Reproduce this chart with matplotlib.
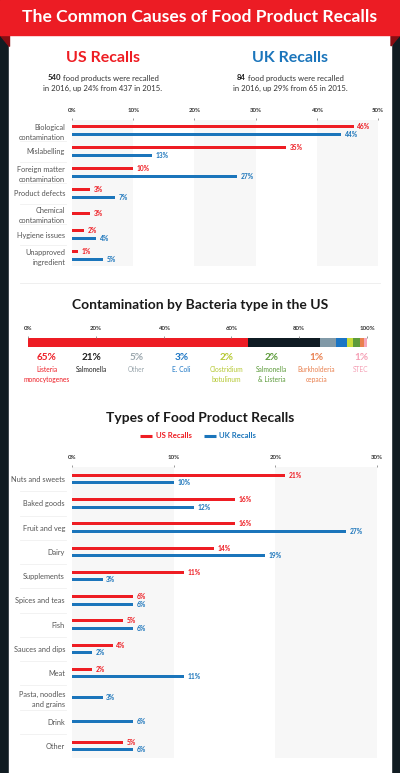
import numpy as np
import matplotlib.pyplot as plt
from matplotlib.patches import Rectangle, Polygon

# ---- data ----
cause_labels = ['Biological\ncontamination', 'Mislabelling', 'Foreign matter\ncontamination',
                'Product defects', 'Chemical\ncontamination', 'Hygiene issues',
                'Unapproved\ningredient']
cause_us = [46, 35, 10, 3, 3, 2, 1]
cause_uk = [44, 13, 27, 7, None, 4, 5]
cause_ticks = [0, 10, 20, 30, 40, 50]

bact_names = ['Listeria\nmonocytogenes', 'Salmonella', 'Other', 'E. Coli',
              'Clostridium\nbotulinum', 'Salmonella\n& Listeria', 'Burkholderia\ncepacia', 'STEC']
bact_share = [65, 21, 5, 3, 2, 2, 1, 1]
bact_colors = ['#ed1c24', '#0f1b23', '#8199a7', '#1b75c4', '#c9dc3c', '#5d9b3b', '#e9804f', '#f5a6bb']
bact_text = ['#ed1c24', '#222222', '#9aa6ad', '#1b75c4', '#b5c832', '#5d9b3b', '#e9804f', '#f5a0b5']
bact_ticks = [0, 20, 40, 60, 80, 100]

type_labels = ['Nuts and sweets', 'Baked goods', 'Fruit and veg', 'Dairy', 'Supplements',
               'Spices and teas', 'Fish', 'Sauces and dips', 'Meat',
               'Pasta, noodles\nand grains', 'Drink', 'Other']
type_us = [21, 16, 16, 14, 11, 6, 5, 4, 2, None, None, 5]
type_uk = [10, 12, 27, 19, 3, 6, 6, 2, 11, 3, 6, 6]
type_ticks = [0, 10, 20, 30]

RED = '#ee1d23'
BLUE = '#1b75bb'
BAND = '#f7f7f7'
GREY_TXT = '#555555'

plt.rcParams['font.family'] = ['Lato', 'DejaVu Sans']

W, H = 400, 773
fig = plt.figure(figsize=(W / 100, H / 100), dpi=100)
fig.patch.set_facecolor('#111c22')

# background axes in pixel units (origin top-left)
bg = fig.add_axes([0, 0, 1, 1])
bg.set_xlim(0, W)
bg.set_ylim(H, 0)
bg.axis('off')
bg.add_patch(Rectangle((9, 30), 382, H - 30, color='white', zorder=1))
bg.add_patch(Polygon([(0, 35), (9, 35), (9, 46)], color='#8a0d12', zorder=1))
bg.add_patch(Polygon([(391, 35), (400, 35), (391, 46)], color='#8a0d12', zorder=1))
bg.add_patch(Rectangle((0, 0), W, 35, color='#ec1c24', zorder=2))
bg.text(200, 17.5, 'The Common Causes of Food Product Recalls', color='white',
        fontsize=12.6, fontweight='bold', ha='center', va='center', zorder=3)

bg.plot([20, 380], [283, 283], color='#ececec', lw=0.6, zorder=2)


def px_axes(x0, y0, x1, y1):
    return fig.add_axes([x0 / W, 1 - y1 / H, (x1 - x0) / W, (y1 - y0) / H])


def bold_lead(x, y, lead, rest, color='#333333', size=5.6):
    # centred line with a bold leading number
    r = fig.canvas.get_renderer()
    t1 = bg.text(0, y, lead, fontsize=size, fontweight='bold', color='#222222', va='center', zorder=3)
    t2 = bg.text(0, y, rest, fontsize=size, color=color, va='center', zorder=3)
    inv = bg.transData.inverted()
    def width(t):
        bb = t.get_window_extent(r)
        return inv.transform((bb.x1, 0))[0] - inv.transform((bb.x0, 0))[0]
    w1, w2 = width(t1), width(t2)
    start = x - (w1 + w2) / 2
    t1.set_x(start)
    t2.set_x(start + w1)


def paired_bars(ax, labels, us, uk, centers, off, thick, label_pad):
    for i, c in enumerate(centers):
        pair = [(us[i], RED), (uk[i], BLUE)]
        present = [(v, col) for v, col in pair if v is not None]
        if len(present) == 1:
            ys = [c]
        else:
            ys = [c - off, c + off]
        for (v, col), yy in zip(present, ys):
            ax.barh(yy, v, height=thick, color=col, zorder=3)
            ax.text(v + label_pad, yy, f'{v}%', color=col, fontsize=4.8,
                    fontweight='bold', va='center', ha='left', zorder=4)
    ax.set_yticks(centers)
    ax.set_yticklabels(labels, fontsize=5.3, color=GREY_TXT, linespacing=1.5)
    ax.tick_params(axis='y', length=0, pad=5)
    # short separators between category labels
    for a, b in zip(centers[:-1], centers[1:]):
        ax.plot([-0.17, -0.02], [(a + b) / 2] * 2, color='#f0f0f0', lw=0.6,
                transform=ax.get_yaxis_transform(), clip_on=False)


def style_top_axis(ax, ticks, maxv, banded=True):
    ax.set_xlim(0, maxv)
    ax.xaxis.tick_top()
    ax.set_xticks(ticks)
    ax.set_xticklabels([f'{t}%' for t in ticks], fontsize=4.4, fontweight='bold', color='#333333')
    ax.tick_params(axis='x', length=1.2, width=0.6, color='#888888', pad=4)
    for s in ax.spines.values():
        s.set_visible(False)
    ax.patch.set_alpha(0)
    if banded:
        for k in range(0, len(ticks) - 1, 2):
            ax.axvspan(ticks[k], ticks[k + 1], color=BAND, zorder=0, lw=0)


# ---- section 1: causes ----
bg.text(103, 58, 'US Recalls', color=RED, fontsize=11.5, fontweight='bold', ha='center', va='center', zorder=3)
bg.text(290, 58, 'UK Recalls', color=BLUE, fontsize=11.5, fontweight='bold', ha='center', va='center', zorder=3)
bold_lead(103, 78, '540', ' food products were recalled')
bold_lead(290, 78, '84', ' food products were recalled')
bg.text(103, 88, 'in 2016, up 24% from 437 in 2015.', fontsize=5.6, color='#333333', ha='center', va='center', zorder=3)
bg.text(290, 88, 'in 2016, up 29% from 65 in 2015.', fontsize=5.6, color='#333333', ha='center', va='center', zorder=3)

ax1 = px_axes(72, 120, 378, 266)
ax1.set_ylim(266, 120)
c1 = list(120 + 10.4 + 20.9 * np.arange(len(cause_labels)))
style_top_axis(ax1, cause_ticks, 50)
paired_bars(ax1, cause_labels, cause_us, cause_uk, c1, 4.0, 3.0, 0.6)

# ---- section 2: bacteria ----
bg.text(200, 305, 'Contamination by Bacteria type in the US', color='#1a1a1a', fontsize=10,
        fontweight='bold', ha='center', va='center', zorder=3)
ax2 = px_axes(28, 338, 367, 347)
style_top_axis(ax2, bact_ticks, 100, banded=False)
ax2.set_ylim(0, 1)
ax2.set_yticks([])
left = 0
for v, col in zip(bact_share, bact_colors):
    ax2.barh(0.5, v, left=left, height=1, color=col, lw=0)
    left += v
for x, v, name, col in zip(np.linspace(47, 361, len(bact_share)), bact_share, bact_names, bact_text):
    bg.text(x, 357, f'{v}%', color=col, fontsize=7.2, fontweight='bold', ha='center', va='center', zorder=3)
    bg.text(x, 366, name, color=col, fontsize=4.8, ha='center', va='top', linespacing=1.45, zorder=3)

# ---- section 3: types ----
bg.text(200, 418, 'Types of Food Product Recalls', color='#1a1a1a', fontsize=10,
        fontweight='bold', ha='center', va='center', zorder=3)
bg.plot([140, 152], [436, 436], color=RED, lw=2.2, solid_capstyle='butt', zorder=3)
bg.text(156, 436, 'US Recalls', color=RED, fontsize=5.6, fontweight='bold', va='center', zorder=3)
bg.plot([204, 216], [436, 436], color=BLUE, lw=2.2, solid_capstyle='butt', zorder=3)
bg.text(219, 436, 'UK Recalls', color=BLUE, fontsize=5.6, fontweight='bold', va='center', zorder=3)

ax3 = px_axes(72, 467, 377, 758)
ax3.set_ylim(758, 467)
step = (758 - 467) / len(type_labels)
c3 = list(467 + step / 2 + step * np.arange(len(type_labels)))
style_top_axis(ax3, type_ticks, 30)
paired_bars(ax3, type_labels, type_us, type_uk, c3, 3.7, 3.0, 0.35)

fig.savefig('out.png', dpi=100, facecolor=fig.get_facecolor())
